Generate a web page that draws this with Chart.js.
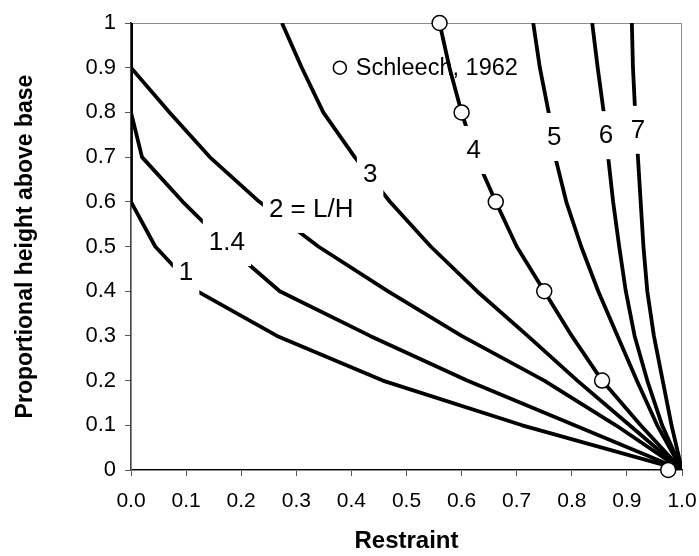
<!DOCTYPE html>
<html>
<head>
<meta charset="utf-8">
<script src="https://cdn.jsdelivr.net/npm/chart.js@4.4.1/dist/chart.umd.min.js"></script>
<style>
  html, body { margin: 0; padding: 0; background: #fff; }
  #chart { display: block; }
</style>
</head>
<body>
<canvas id="chart" width="699" height="556"></canvas>
<script>
// heights at which each curve was sampled (top to base)
const HEIGHTS = [1, 0.9, 0.8, 0.7, 0.6, 0.5, 0.4, 0.3, 0.2, 0.1, 0];

// restraint at each height, one array per L/H ratio
const R_LH1   = [0, 0, 0, 0, 0, 0.044, 0.12, 0.265, 0.457, 0.71, 1.0];
const R_LH1_4 = [0, 0, 0, 0.02, 0.094, 0.176, 0.27, 0.434, 0.61, 0.805, 1.0];
const R_LH2   = [0, 0, 0.07, 0.143, 0.233, 0.34, 0.466, 0.6, 0.75, 0.88, 1.0];
const R_LH3   = [0.274, 0.31, 0.349, 0.406, 0.47, 0.544, 0.628, 0.72, 0.81, 0.905, 1.0];
const R_LH4   = [0.56, 0.578, 0.6, 0.626, 0.662, 0.70, 0.75, 0.80, 0.855, 0.925, 1.0];
const R_LH5   = [0.73, 0.742, 0.758, 0.77, 0.79, 0.817, 0.848, 0.883, 0.918, 0.955, 1.0];
const R_LH6   = [0.837, 0.847, 0.858, 0.866, 0.875, 0.886, 0.898, 0.914, 0.937, 0.964, 1.0];
const R_LH7   = [0.909, 0.911, 0.915, 0.92, 0.925, 0.93, 0.937, 0.949, 0.965, 0.981, 1.0];

// Schleech (1962) measurements
const SCHLEECH_H = [1.0, 0.8, 0.6, 0.4, 0.2, 0];
const SCHLEECH_R = [0.56, 0.6, 0.662, 0.75, 0.855, 0.975];

// curve labels, placed in data units
const CURVE_LABELS = [
  { text: '1',       x: 0.100, y: 0.443 },
  { text: '1.4',     x: 0.174, y: 0.510 },
  { text: '2 = L/H', x: 0.327, y: 0.584 },
  { text: '3',       x: 0.434, y: 0.662 },
  { text: '4',       x: 0.622, y: 0.716 },
  { text: '5',       x: 0.768, y: 0.745 },
  { text: '6',       x: 0.862, y: 0.749 },
  { text: '7',       x: 0.920, y: 0.761 }
];

const LEGEND_TEXT = 'Schleech, 1962';
const X_TITLE = 'Restraint';
const Y_TITLE = 'Proportional height above base';

const FONT = "'Liberation Sans', Arial, Helvetica, sans-serif";

const toPoints = (xs, ys) => xs.map((x, i) => ({ x, y: ys[i] }));

const curve = (xs) => ({
  data: toPoints(xs, HEIGHTS),
  showLine: true,
  borderColor: '#000',
  borderWidth: 3.8,
  borderJoinStyle: 'round',
  pointRadius: 0,
  tension: 0,
  fill: false
});

const tick1 = v => (Math.round(v * 10) / 10).toFixed(1);

// grey box round the plot area (top and right show through)
const plotFrame = {
  id: 'plotFrame',
  beforeDatasetsDraw(chart) {
    const { ctx, chartArea: a } = chart;
    ctx.save();
    ctx.strokeStyle = '#8c8c8c';
    ctx.lineWidth = 1;
    ctx.strokeRect(a.left, a.top + 0.5, a.right - a.left - 0.5, a.bottom - a.top);
    ctx.restore();
  }
};

// white-backed curve labels and the legend entry
const curveLabels = {
  id: 'curveLabels',
  afterDatasetsDraw(chart) {
    const { ctx, scales: { x, y } } = chart;
    ctx.save();
    ctx.font = `26px ${FONT}`;
    ctx.textAlign = 'center';
    ctx.textBaseline = 'middle';
    CURVE_LABELS.forEach(l => {
      const px = x.getPixelForValue(l.x);
      const py = y.getPixelForValue(l.y);
      const w = ctx.measureText(l.text).width + 12;
      const h = 48;
      ctx.fillStyle = '#fff';
      ctx.fillRect(px - w / 2, py - h / 2, w, h);
      ctx.fillStyle = '#000';
      ctx.fillText(l.text, px, py + 1);
    });

    // legend
    const lx = x.getPixelForValue(0.379);
    const ly = y.getPixelForValue(0.9);
    ctx.beginPath();
    ctx.arc(lx, ly, 6.5, 0, Math.PI * 2);
    ctx.fillStyle = '#fff';
    ctx.fill();
    ctx.lineWidth = 1.5;
    ctx.strokeStyle = '#000';
    ctx.stroke();
    ctx.font = `23.5px ${FONT}`;
    ctx.textAlign = 'left';
    ctx.fillStyle = '#000';
    ctx.fillText(LEGEND_TEXT, lx + 16, ly + 1);
    ctx.restore();
  }
};

new Chart(document.getElementById('chart'), {
  type: 'scatter',
  data: {
    datasets: [
      // first dataset is painted last, so the open circles sit over the lines
      {
        data: toPoints(SCHLEECH_R, SCHLEECH_H),
        showLine: false,
        pointRadius: 7.5,
        pointBackgroundColor: '#fff',
        pointBorderColor: '#000',
        pointBorderWidth: 1.5,
        clip: false
      },
      curve(R_LH1),
      curve(R_LH1_4),
      curve(R_LH2),
      curve(R_LH3),
      curve(R_LH4),
      curve(R_LH5),
      curve(R_LH6),
      curve(R_LH7)
    ]
  },
  plugins: [plotFrame, curveLabels],
  options: {
    responsive: false,
    animation: false,
    events: [],
    layout: { padding: { left: 0, top: 23, right: 17, bottom: 0 } },
    plugins: {
      legend: { display: false },
      tooltip: { enabled: false }
    },
    scales: {
      x: {
        type: 'linear',
        min: 0,
        max: 1,
        afterFit: s => {
          s.height = 86;
          s.paddingLeft = 0;
          s.paddingRight = 0;
        },
        ticks: {
          stepSize: 0.1,
          callback: tick1,
          color: '#000',
          font: { family: FONT, size: 21 },
          padding: 13,
          maxRotation: 0
        },
        grid: {
          drawOnChartArea: false,
          drawTicks: true,
          tickLength: 6,
          tickColor: '#555',
          tickWidth: 1
        },
        border: { display: true, color: '#000', width: 1.5 },
        title: {
          display: true,
          text: X_TITLE,
          color: '#000',
          font: { family: FONT, size: 24, weight: 'bold' },
          padding: { top: 0, bottom: 0 }
        }
      },
      y: {
        type: 'linear',
        min: 0,
        max: 1,
        afterFit: s => {
          s.width = 131;
          s.paddingTop = 0;
          s.paddingBottom = 0;
        },
        ticks: {
          stepSize: 0.1,
          callback: v => (v === 0 || v === 1) ? String(v) : tick1(v),
          color: '#000',
          font: { family: FONT, size: 22 },
          padding: 9
        },
        grid: {
          drawOnChartArea: false,
          drawTicks: true,
          tickLength: 6,
          tickColor: '#555',
          tickWidth: 1
        },
        border: { display: true, color: '#000', width: 1.5 },
        title: {
          display: true,
          text: Y_TITLE,
          color: '#000',
          font: { family: FONT, size: 23, weight: 'bold' },
          padding: { top: 12, bottom: 0 }
        }
      }
    }
  }
});
</script>
</body>
</html>
